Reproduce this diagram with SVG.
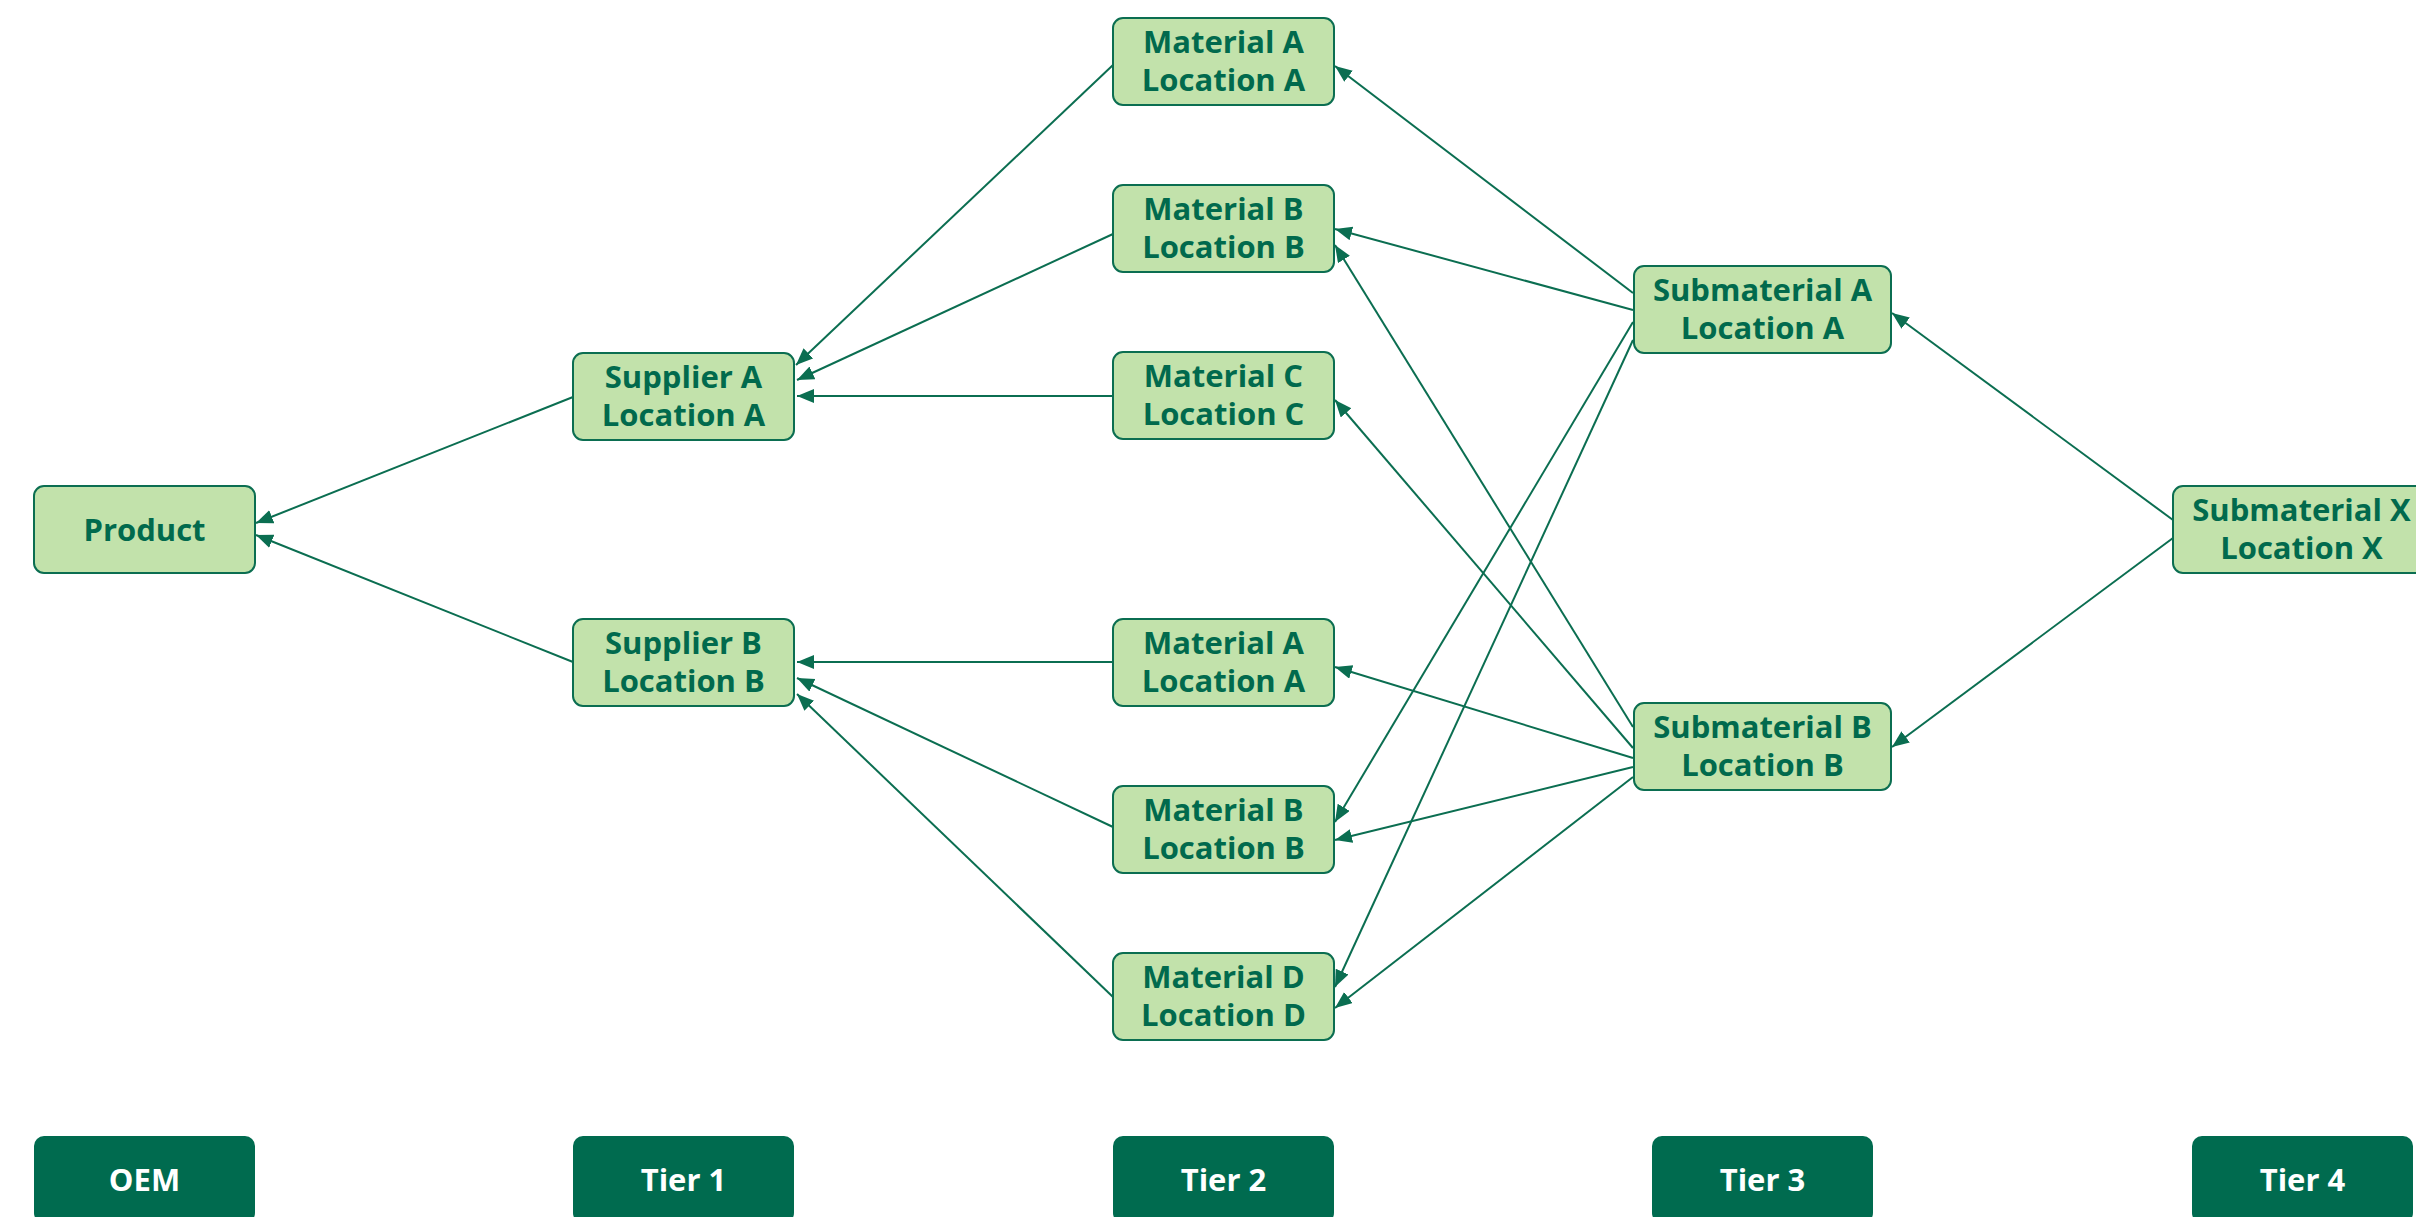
<svg xmlns="http://www.w3.org/2000/svg" width="2416" height="1217" viewBox="0 0 2416 1217">
<defs>
<style>
.node rect{fill:#c2e2ab;stroke:#0b6e51;stroke-width:2}
.node text{font-family:"Open Sans","Noto Sans","DejaVu Sans",sans-serif;font-weight:700;font-size:31px;fill:#016a4d;text-anchor:middle}
.tier rect{fill:#006b4f}
.tier text{font-family:"Open Sans","Noto Sans","DejaVu Sans",sans-serif;font-weight:700;font-size:31px;fill:#ffffff;text-anchor:middle}
.edges line{stroke:#0b6e51;stroke-width:2;marker-end:url(#arr)}
</style>
<marker id="arr" markerUnits="userSpaceOnUse" markerWidth="20" markerHeight="16" refX="17" refY="7" orient="auto">
<path d="M0,0 L17,7 L0,14 z" fill="#0b6e51"/>
</marker>
</defs>
<rect width="2416" height="1217" fill="#ffffff"/>

<g id="product" class="node"><rect x="34" y="486" width="221" height="87" rx="10"/><text x="144.5" y="541">Product</text></g>
<g id="supplierA" class="node"><rect x="573" y="353" width="221" height="87" rx="10"/><text x="683.5" y="388">Supplier A</text><text x="683.5" y="426">Location A</text></g>
<g id="supplierB" class="node"><rect x="573" y="619" width="221" height="87" rx="10"/><text x="683.5" y="654">Supplier B</text><text x="683.5" y="692">Location B</text></g>
<g id="materialA1" class="node"><rect x="1113" y="18" width="221" height="87" rx="10"/><text x="1223.5" y="53">Material A</text><text x="1223.5" y="91">Location A</text></g>
<g id="materialB1" class="node"><rect x="1113" y="185" width="221" height="87" rx="10"/><text x="1223.5" y="220">Material B</text><text x="1223.5" y="258">Location B</text></g>
<g id="materialC" class="node"><rect x="1113" y="352" width="221" height="87" rx="10"/><text x="1223.5" y="387">Material C</text><text x="1223.5" y="425">Location C</text></g>
<g id="materialA2" class="node"><rect x="1113" y="619" width="221" height="87" rx="10"/><text x="1223.5" y="654">Material A</text><text x="1223.5" y="692">Location A</text></g>
<g id="materialB2" class="node"><rect x="1113" y="786" width="221" height="87" rx="10"/><text x="1223.5" y="821">Material B</text><text x="1223.5" y="859">Location B</text></g>
<g id="materialD" class="node"><rect x="1113" y="953" width="221" height="87" rx="10"/><text x="1223.5" y="988">Material D</text><text x="1223.5" y="1026">Location D</text></g>
<g id="submaterialA" class="node"><rect x="1634" y="266" width="257" height="87" rx="10"/><text x="1762.5" y="301">Submaterial A</text><text x="1762.5" y="339">Location A</text></g>
<g id="submaterialB" class="node"><rect x="1634" y="703" width="257" height="87" rx="10"/><text x="1762.5" y="738">Submaterial B</text><text x="1762.5" y="776">Location B</text></g>
<g id="submaterialX" class="node"><rect x="2173" y="486" width="257" height="87" rx="10"/><text x="2301.5" y="521">Submaterial X</text><text x="2301.5" y="559">Location X</text></g>

<g id="tierOEM" class="tier"><rect x="34" y="1136" width="221" height="87" rx="10"/><text x="144.5" y="1191">OEM</text></g>
<g id="tier1" class="tier"><rect x="573" y="1136" width="221" height="87" rx="10"/><text x="683.5" y="1191">Tier 1</text></g>
<g id="tier2" class="tier"><rect x="1113" y="1136" width="221" height="87" rx="10"/><text x="1223.5" y="1191">Tier 2</text></g>
<g id="tier3" class="tier"><rect x="1652" y="1136" width="221" height="87" rx="10"/><text x="1762.5" y="1191">Tier 3</text></g>
<g id="tier4" class="tier"><rect x="2192" y="1136" width="221" height="87" rx="10"/><text x="2302.5" y="1191">Tier 4</text></g>

<g id="connectors" class="edges">
<line x1="573" y1="397" x2="256" y2="523"/>
<line x1="573" y1="662" x2="256" y2="535"/>
<line x1="1113" y1="65" x2="796" y2="365"/>
<line x1="1113" y1="234" x2="797" y2="380"/>
<line x1="1113" y1="396" x2="797" y2="396"/>
<line x1="1113" y1="662" x2="797" y2="662"/>
<line x1="1113" y1="827" x2="797" y2="678"/>
<line x1="1113" y1="997" x2="797" y2="694"/>
<line x1="1633" y1="293" x2="1335" y2="66"/>
<line x1="1633" y1="310" x2="1335" y2="229"/>
<line x1="1633" y1="322" x2="1335" y2="822"/>
<line x1="1633" y1="340" x2="1335" y2="987"/>
<line x1="1633" y1="727" x2="1335" y2="245"/>
<line x1="1633" y1="748" x2="1335" y2="400"/>
<line x1="1633" y1="758" x2="1335" y2="667"/>
<line x1="1633" y1="767" x2="1335" y2="840"/>
<line x1="1633" y1="777" x2="1335" y2="1008"/>
<line x1="2173" y1="520" x2="1892" y2="313"/>
<line x1="2173" y1="538" x2="1892" y2="747"/>
</g>
</svg>
